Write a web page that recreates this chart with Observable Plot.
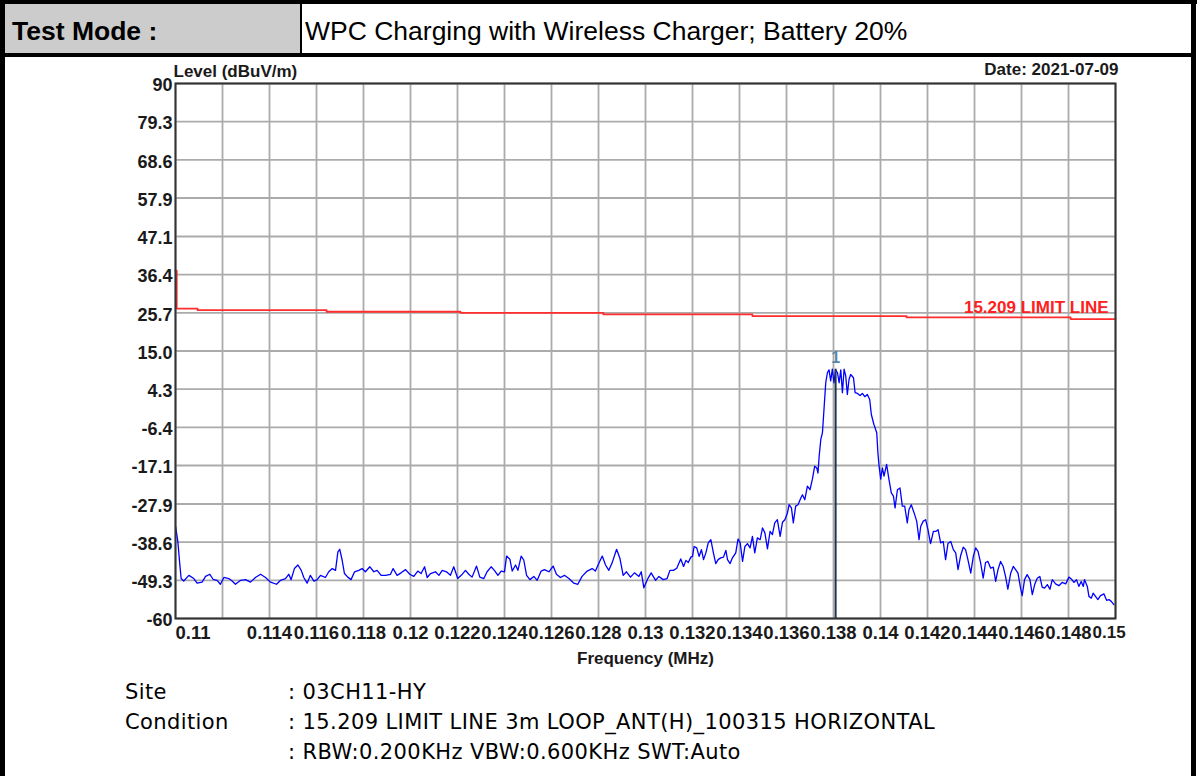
<!DOCTYPE html>
<html>
<head>
<meta charset="utf-8">
<script src="https://cdn.jsdelivr.net/npm/d3@7"></script>
<script src="https://cdn.jsdelivr.net/npm/@observablehq/plot@0.6"></script>
<style>
  html, body { margin: 0; padding: 0; background: #fff; }
  #page { position: relative; width: 1197px; height: 776px; overflow: hidden; font-family: "Liberation Sans", Arial, sans-serif; }
  .blk { position: absolute; background: #000; }
  .hdr { position: absolute; font-size: 26.5px; line-height: 26px; white-space: nowrap; color: #000; }
  .foot { position: absolute; font-family: "DejaVu Sans", sans-serif; font-size: 21px; line-height: 21px; letter-spacing: 0.4px; white-space: nowrap; color: #000; }
  #chart { position: absolute; left: 0; top: 57px; }
</style>
</head>
<body>
<div id="page">
  <div style="position:absolute;left:5px;top:4px;width:295px;height:49px;background:#cccccc;"></div>
  <div class="blk" style="left:0;top:0;width:1197px;height:4px;"></div>
  <div class="blk" style="left:0;top:0;width:5px;height:776px;"></div>
  <div class="blk" style="left:1191px;top:0;width:5px;height:776px;"></div>
  <div class="blk" style="left:0;top:53px;width:1196px;height:4px;"></div>
  <div class="blk" style="left:300px;top:4px;width:2px;height:49px;"></div>
  <div class="hdr" id="modeLabel" style="left:12px;top:18px;font-weight:bold;"></div>
  <div class="hdr" id="modeValue" style="left:305px;top:18px;"></div>
  <div id="chart"></div>
  <div id="footer"></div>
</div>
<script>
// ---------- header / footer texts ----------
const testModeLabel = "Test Mode :";
const testModeValue = "WPC Charging with Wireless Charger; Battery 20%";
const footerKeys = ["Site", "Condition", ""];
const footerValues = [": 03CH11-HY", ": 15.209 LIMIT LINE 3m LOOP_ANT(H)_100315 HORIZONTAL", ": RBW:0.200KHz VBW:0.600KHz SWT:Auto"];

// ---------- axes ----------
const yTickLabels = ["90","79.3","68.6","57.9","47.1","36.4","25.7","15.0","4.3","-6.4","-17.1","-27.9","-38.6","-49.3","-60"];
const xGridValues = [0.11,0.112,0.114,0.116,0.118,0.12,0.122,0.124,0.126,0.128,0.13,0.132,0.134,0.136,0.138,0.14,0.142,0.144,0.146,0.148,0.15];
const xTickLabels = ["0.11","0.114","0.116","0.118","0.12","0.122","0.124","0.126","0.128","0.13","0.132","0.134","0.136","0.138","0.14","0.142","0.144","0.146","0.148","0.15"];

// ---------- limit line (15.209) ----------
const limitFreq  = [0.11, 0.11005, 0.11094, 0.11643, 0.12213, 0.12821, 0.13455, 0.14111, 0.14809, 0.15];
const limitLevel = [37.5, 26.9, 26.45, 26.0, 25.7, 25.25, 24.8, 24.4, 23.95, 23.95];

// ---------- marker ----------
const markerFreq = 0.13809;
const markerLevel = 9.9;
const markerLabel = "1";

// ---------- measured trace ----------
const traceFreq = [
0.11000,0.11010,0.11018,0.11024,0.11035,0.11057,0.11078,0.11092,0.11113,0.11128,
0.11146,0.11160,0.11177,0.11191,0.11206,0.11227,0.11241,0.11255,0.11277,0.11298,
0.11319,0.11340,0.11362,0.11383,0.11404,0.11430,0.11447,0.11468,0.11482,0.11492,
0.11506,0.11521,0.11535,0.11546,0.11560,0.11574,0.11589,0.11603,0.11617,0.11638,
0.11652,0.11667,0.11681,0.11691,0.11699,0.11709,0.11719,0.11733,0.11747,0.11762,
0.11780,0.11794,0.11808,0.11827,0.11844,0.11858,0.11875,0.11894,0.11915,0.11926,
0.11943,0.11960,0.11979,0.11997,0.12014,0.12031,0.12045,0.12060,0.12071,0.12085,
0.12106,0.12121,0.12135,0.12153,0.12170,0.12184,0.12201,0.12216,0.12234,0.12248,
0.12262,0.12281,0.12295,0.12312,0.12326,0.12343,0.12357,0.12372,0.12386,0.12400,
0.12409,0.12423,0.12433,0.12447,0.12457,0.12471,0.12482,0.12494,0.12508,0.12525,
0.12539,0.12556,0.12570,0.12589,0.12607,0.12621,0.12638,0.12655,0.12674,0.12695,
0.12712,0.12730,0.12752,0.12773,0.12787,0.12801,0.12816,0.12830,0.12844,0.12858,
0.12877,0.12891,0.12905,0.12919,0.12936,0.12953,0.12972,0.12982,0.12993,0.13010,
0.13024,0.13043,0.13057,0.13075,0.13092,0.13104,
0.13119,0.13133,0.13143,0.13150,0.13162,0.13172,0.13182,0.13193,0.13200,0.13207,
0.13218,0.13228,0.13238,0.13247,0.13257,0.13267,0.13278,0.13289,0.13299,0.13309,
0.13320,0.13332,0.13342,0.13349,0.13360,0.13370,0.13384,0.13394,0.13403,0.13413,
0.13423,0.13434,0.13445,0.13455,0.13465,0.13476,0.13488,0.13498,0.13508,0.13519,
0.13530,0.13540,0.13550,0.13561,0.13573,0.13583,0.13593,0.13604,0.13611,0.13621,
0.13629,0.13639,0.13649,0.13661,0.13668,0.13678,0.13689,0.13700,0.13710,0.13720,
0.13729,0.13734,0.13739,0.13746,0.13753,0.13760,0.13767,0.13774,0.13781,0.13788,
0.13795,0.13802,0.13809,0.13817,0.13824,0.13831,0.13838,0.13845,0.13852,0.13859,
0.13866,0.13873,0.13885,0.13892,0.13902,0.13913,0.13923,0.13933,0.13944,0.13954,
0.13961,0.13972,0.13984,0.13989,0.13994,0.14001,0.14008,0.14015,0.14026,0.14036,
0.14046,0.14055,0.14062,0.14072,0.14083,0.14093,0.14103,0.14114,0.14121,0.14131,
0.14143,0.14154,0.14164,0.14171,0.14182,0.14192,0.14202,0.14213,0.14225,0.14235,
0.14245,0.14256,0.14267,0.14277,0.14287,0.14299,0.14310,0.14320,0.14330,0.14341,
0.14352,0.14362,0.14372,0.14384,0.14395,0.14405,0.14415,0.14426,0.14437,0.14447,
0.14457,0.14469,0.14480,0.14490,0.14500,0.14511,0.14522,0.14532,0.14542,0.14554,
0.14565,0.14575,0.14585,0.14596,0.14603,0.14613,0.14624,0.14636,0.14646,0.14656,
0.14667,0.14678,0.14688,0.14698,0.14710,0.14721,0.14731,0.14745,0.14759,0.14773,
0.14788,0.14802,0.14812,0.14823,0.14834,0.14844,0.14854,0.14863,0.14868,0.14880,
0.14887,0.14897,0.14905,0.14915,0.14925,0.14936,0.14951,0.14962,0.14972,0.14982,
0.14993];
const traceLevel = [
-34.1,-38.4,-44.6,-48.8,-49.5,-47.9,-48.8,-50.1,-49.8,-48.2,
-47.6,-49.0,-49.3,-50.4,-48.5,-48.8,-49.5,-50.4,-49.3,-49.1,
-49.8,-48.5,-47.6,-48.5,-49.8,-50.4,-49.3,-48.8,-47.6,-49.1,
-46.0,-45.0,-46.5,-48.5,-50.1,-47.9,-49.5,-49.1,-47.9,-48.5,
-46.9,-46.0,-46.5,-41.3,-40.6,-43.6,-47.4,-48.4,-49.1,-46.9,
-46.5,-46.0,-46.9,-45.5,-46.9,-46.5,-47.9,-47.9,-47.6,-46.0,
-47.9,-47.2,-46.3,-47.6,-48.2,-46.7,-47.4,-45.5,-48.5,-47.4,
-46.9,-47.9,-46.5,-46.9,-47.9,-45.5,-48.8,-47.9,-46.5,-47.6,
-48.4,-45.3,-48.4,-48.8,-46.9,-45.5,-46.5,-47.9,-46.7,-46.9,
-42.5,-43.4,-46.7,-45.0,-46.5,-42.5,-43.6,-47.9,-49.1,-48.2,
-49.3,-46.7,-46.3,-46.9,-45.3,-47.6,-48.5,-47.9,-48.8,-50.1,
-50.4,-48.2,-46.7,-46.0,-46.7,-44.6,-42.5,-45.0,-46.5,-44.4,
-40.6,-43.1,-47.9,-46.9,-48.4,-47.2,-48.2,-46.9,-51.4,-48.8,
-47.2,-49.3,-48.2,-49.1,-48.8,-46.5,
-46.5,-45.9,-44.4,-43.3,-45.4,-43.7,-44.3,-42.8,-42.6,-39.8,
-40.2,-42.6,-40.7,-43.5,-41.6,-38.8,-37.9,-41.6,-44.6,-43.5,
-43.0,-42.8,-40.9,-43.5,-44.6,-43.0,-41.6,-37.7,-38.8,-44.0,
-39.8,-39.0,-40.2,-37.0,-41.6,-37.4,-37.9,-34.6,-36.0,-40.5,
-35.6,-36.5,-33.2,-32.3,-37.0,-33.0,-32.3,-30.4,-28.1,-29.0,
-33.2,-28.5,-28.1,-26.2,-25.3,-26.7,-22.9,-23.9,-21.0,-17.3,
-17.8,-19.2,-14.5,-9.8,-7.9,-0.9,6.1,8.9,9.7,6.6,
9.9,6.1,9.7,8.9,6.1,9.7,3.3,9.9,8.0,2.8,
7.0,8.4,7.5,3.3,3.1,2.5,3.1,2.2,2.8,1.4,
-2.8,-5.6,-7.9,-13.6,-17.3,-20.9,-17.8,-20.1,-16.8,-21.0,
-24.8,-25.7,-29.0,-23.9,-23.4,-28.5,-28.5,-33.2,-29.5,-28.1,
-30.4,-32.7,-37.9,-34.2,-32.7,-32.3,-35.1,-39.0,-35.6,-35.6,
-35.1,-38.8,-38.4,-43.5,-39.0,-38.4,-40.7,-41.6,-46.3,-42.4,
-40.0,-40.7,-43.5,-47.3,-42.6,-40.2,-41.2,-44.4,-48.7,-44.3,
-44.0,-45.9,-45.6,-49.6,-46.3,-44.0,-45.4,-48.2,-51.8,-47.3,
-45.4,-46.3,-47.3,-51.5,-53.6,-49.1,-47.7,-49.1,-53.3,-50.5,
-48.7,-48.2,-51.2,-51.5,-50.5,-51.8,-49.1,-50.3,-50.8,-49.9,
-50.3,-48.4,-48.9,-49.9,-49.1,-51.0,-49.6,-51.0,-49.1,-51.0,
-53.8,-54.3,-52.9,-53.8,-54.7,-53.6,-53.1,-54.9,-54.7,-55.2,
-56.1];

// ---------- build ----------
document.getElementById("modeLabel").textContent = testModeLabel;
document.getElementById("modeValue").textContent = testModeValue;
const footer = document.getElementById("footer");
const footTops = [682, 712, 742];
footerKeys.forEach((k, i) => {
  const a = document.createElement("div");
  a.className = "foot"; a.style.left = "125px"; a.style.top = footTops[i] + "px"; a.textContent = k;
  footer.appendChild(a);
  const b = document.createElement("div");
  b.className = "foot"; b.style.left = "288px"; b.style.top = footTops[i] + "px"; b.textContent = footerValues[i];
  footer.appendChild(b);
});

const trace = traceFreq.map((f, i) => ({f, v: traceLevel[i]}));
const limit = limitFreq.map((f, i) => ({f, v: limitLevel[i]}));
const yTickValues = yTickLabels.map(Number);
const xTickValues = xTickLabels.map(Number);
const xFirst = [xTickValues[0]];
const xLast = [xTickValues[xTickValues.length - 1]];
const xPrev = xTickValues[xTickValues.length - 2];
const xMid = xTickValues.slice(1, -1);
const fmtX = d => xTickLabels[xTickValues.indexOf(d)];
const txt = {fontSize: 17, fontWeight: "bold", fill: "#1a1a1a"};
const tickTxt = {fontSize: 18.5, fontWeight: "bold", fill: "#1a1a1a"};

const chart = Plot.plot({
  width: 1190,
  height: 620,
  marginLeft: 175,
  marginRight: 75,
  marginTop: 26,
  marginBottom: 59,
  style: {fontFamily: "'Liberation Sans', Arial, sans-serif", background: "transparent", overflow: "visible"},
  x: {domain: [0.11, 0.15], axis: null},
  y: {domain: [-60, 90], axis: null},
  marks: [
    Plot.gridX(xGridValues, {stroke: "#ababab", strokeOpacity: 1, strokeWidth: 1.8}),
    Plot.gridY(yTickValues, {stroke: "#ababab", strokeOpacity: 1, strokeWidth: 1.8}),
    Plot.line(limit, {x: "f", y: "v", curve: "step-after", stroke: "#ff2d2d", strokeWidth: 1.8}),
    Plot.line(trace, {x: "f", y: "v", stroke: "#0000ff", strokeWidth: 1.3}),
    Plot.ruleX([markerFreq], {x: d => d, y1: -60, y2: markerLevel, stroke: "#1c3650", strokeWidth: 2}),
    Plot.text([markerFreq], {x: d => d, y: markerLevel, text: () => markerLabel, lineAnchor: "bottom", dy: -6, fontSize: 16, fontWeight: "bold", fill: "#5a86a8"}),
    Plot.text([limitFreq[limitFreq.length - 1]], {x: d => d, y: limitLevel[limitLevel.length - 1], text: () => "15.209 LIMIT LINE", textAnchor: "end", lineAnchor: "bottom", dx: -7, dy: -6, fontSize: 17, fontWeight: "bold", fill: "#ff2020"}),
    Plot.frame({stroke: "#333", strokeWidth: 2}),
    // y tick labels
    Plot.text(yTickValues, {y: d => d, text: (d, i) => yTickLabels[i], frameAnchor: "left", textAnchor: "end", dx: -3, dy: 2, ...tickTxt, fontSize: 18}),
    // x tick labels
    Plot.text(xFirst, {x: d => d, text: fmtX, frameAnchor: "bottom", textAnchor: "start", lineAnchor: "top", dy: 7, ...tickTxt}),
    Plot.text(xMid, {x: d => d, text: fmtX, frameAnchor: "bottom", textAnchor: "middle", lineAnchor: "top", dy: 7, ...tickTxt}),
    Plot.text(xLast, {x: () => xPrev, text: fmtX, frameAnchor: "bottom", textAnchor: "start", lineAnchor: "top", dx: 24, dy: 7, ...tickTxt, fontSize: 17}),
    // axis titles
    Plot.text(["Level (dBuV/m)"], {frameAnchor: "top-left", textAnchor: "start", lineAnchor: "bottom", dx: -2, dy: -7, text: d => d, ...txt}),
    Plot.text(["Date: 2021-07-09"], {frameAnchor: "top-right", textAnchor: "end", lineAnchor: "bottom", dx: 3, dy: -9, text: d => d, ...txt}),
    Plot.text(["Frequency (MHz)"], {frameAnchor: "bottom", textAnchor: "middle", lineAnchor: "top", dy: 33, text: d => d, ...txt})
  ]
});
document.getElementById("chart").appendChild(chart);
</script>
</body>
</html>
